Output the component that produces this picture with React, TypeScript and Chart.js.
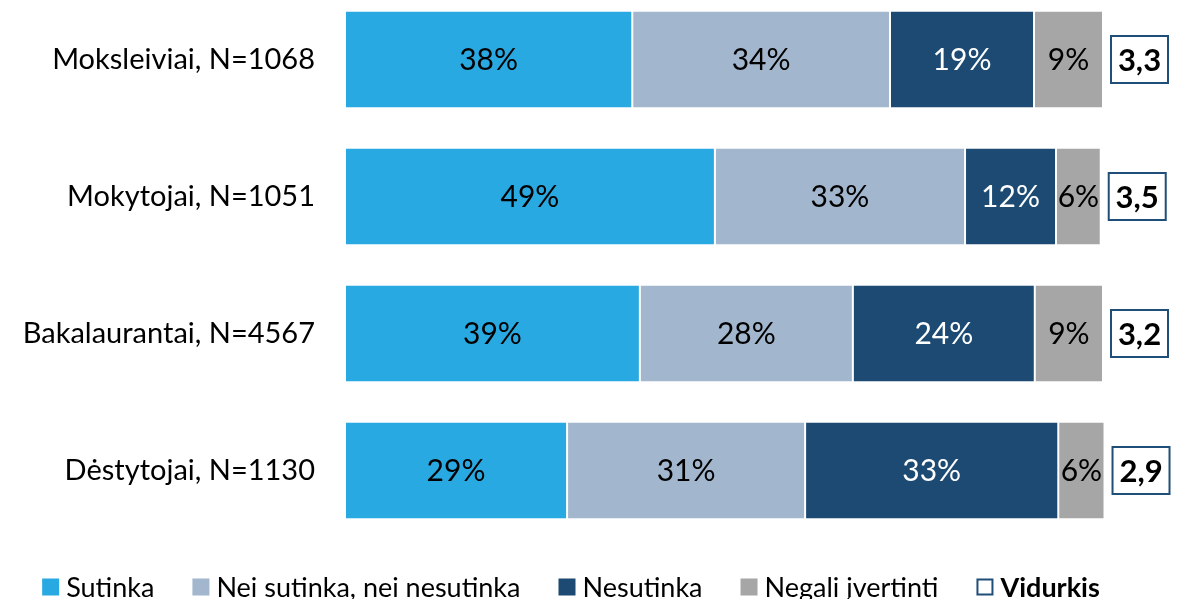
import React, { useEffect, useRef } from "react";
import { Chart, registerables } from "chart.js";

Chart.register(...registerables);

const categories = [
  "Moksleiviai, N=1068",
  "Mokytojai, N=1051",
  "Bakalaurantai, N=4567",
  "Dėstytojai, N=1130",
];
const seriesNames = ["Sutinka", "Nei sutinka, nei nesutinka", "Nesutinka", "Negali įvertinti"];
const sutinka = [37.9, 48.8, 38.9, 29.3];
const neiSutinka = [34.0, 33.0, 28.1, 31.4];
const nesutinka = [19.0, 12.0, 24.0, 33.4];
const negali = [9.1, 5.9, 9.0, 6.1];
const vidurkis = [3.3, 3.5, 3.2, 2.9];
const vidurkisLabel = "Vidurkis";

const colors = ["#29A9E1", "#A2B6CE", "#1C4A72", "#A6A6A6"];
const labelColors = ["#000000", "#000000", "#FFFFFF", "#000000"];
const boxBorder = "#1F4E79";
const FONT = "Lato, 'Open Sans', sans-serif";

const W = 1181;
const H = 620;
const TOP_SHIFT = -10;

const overlayPlugin = {
  id: "overlay",
  afterDatasetsDraw(chart: any) {
    const ctx = chart.ctx as CanvasRenderingContext2D;
    ctx.save();
    // data labels
    ctx.font = `30px ${FONT}`;
    ctx.textAlign = "center";
    ctx.textBaseline = "middle";
    chart.data.datasets.forEach((ds: any, di: number) => {
      const meta = chart.getDatasetMeta(di);
      meta.data.forEach((el: any, i: number) => {
        const v = ds.data[i];
        const cx = (el.x + el.base) / 2;
        ctx.fillStyle = labelColors[di];
        ctx.fillText(`${Math.round(v)}%`, cx, el.y + 1);
      });
    });
    // mean boxes
    const lastMeta = chart.getDatasetMeta(chart.data.datasets.length - 1);
    lastMeta.data.forEach((el: any, i: number) => {
      const left = Math.max(el.x, el.base) + 8;
      const bw = 57;
      const bh = 47;
      const top = el.y - bh / 2;
      ctx.fillStyle = "#FFFFFF";
      ctx.fillRect(left, top, bw, bh);
      ctx.strokeStyle = boxBorder;
      ctx.lineWidth = 2;
      ctx.strokeRect(left, top, bw, bh);
      ctx.fillStyle = "#000000";
      ctx.font = `bold 31px ${FONT}`;
      ctx.fillText(vidurkis[i].toFixed(1).replace(".", ","), left + bw / 2, el.y + 1);
    });
    // legend
    const ly = 597;
    const sq = 17;
    const gap = 7;
    const spacing = 38;
    const items = seriesNames.map((n, i) => ({ text: n, color: colors[i], bold: false }));
    items.push({ text: vidurkisLabel, color: "", bold: true });
    const widths = items.map((it) => {
      ctx.font = `${it.bold ? "bold " : ""}27px ${FONT}`;
      return sq + gap + ctx.measureText(it.text).width;
    });
    const total = widths.reduce((a, b) => a + b, 0) + spacing * (items.length - 1);
    let x = 571 - total / 2;
    ctx.textAlign = "left";
    items.forEach((it, i) => {
      if (it.color) {
        ctx.fillStyle = it.color;
        ctx.fillRect(x, ly - sq / 2, sq, sq);
      } else {
        ctx.fillStyle = "#FFFFFF";
        ctx.fillRect(x + 1, ly - sq / 2 + 1, sq - 2, sq - 2);
        ctx.strokeStyle = boxBorder;
        ctx.lineWidth = 2;
        ctx.strokeRect(x + 1, ly - sq / 2 + 1, sq - 2, sq - 2);
      }
      ctx.fillStyle = "#000000";
      ctx.font = `${it.bold ? "bold " : ""}27px ${FONT}`;
      ctx.fillText(it.text, x + sq + gap, ly + 1);
      x += widths[i] + spacing;
    });
    ctx.restore();
  },
};

export default function App() {
  const ref = useRef<HTMLCanvasElement | null>(null);
  useEffect(() => {
    if (!ref.current) return;
    const seriesData = [sutinka, neiSutinka, nesutinka, negali];
    const chart = new Chart(ref.current, {
      type: "bar",
      data: {
        labels: categories,
        datasets: seriesData.map((d, i) => ({
          label: seriesNames[i],
          data: d,
          backgroundColor: colors[i],
          borderColor: "rgba(255,255,255,0.7)",
          borderWidth: 1,
          borderSkipped: false,
          barPercentage: 0.71,
          categoryPercentage: 1,
          clip: false as any,
        })),
      },
      options: {
        indexAxis: "y",
        animation: false,
        responsive: false,
        devicePixelRatio: 1,
        layout: { padding: { top: 1, right: 78, bottom: 71, left: 0 } },
        plugins: {
          legend: { display: false },
          tooltip: { enabled: false },
        },
        scales: {
          x: {
            display: false,
            stacked: true,
            min: 0,
            max: 100,
          },
          y: {
            stacked: true,
            grid: { display: false, drawTicks: false },
            border: { display: false },
            ticks: {
              color: "#000000",
              padding: 30,
              font: { family: FONT, size: 29 },
            },
            afterFit: (scale: any) => {
              scale.width = 345;
              scale.paddingTop = 0;
              scale.paddingBottom = 0;
            },
          },
        },
      },
      plugins: [overlayPlugin],
    });
    return () => chart.destroy();
  }, []);
  return (
    <div style={{ position: "fixed", left: 0, top: TOP_SHIFT, width: W, height: H, background: "#fff" }}>
      <canvas ref={ref} width={W} height={H} style={{ width: W, height: H, display: "block" }} />
    </div>
  );
}
